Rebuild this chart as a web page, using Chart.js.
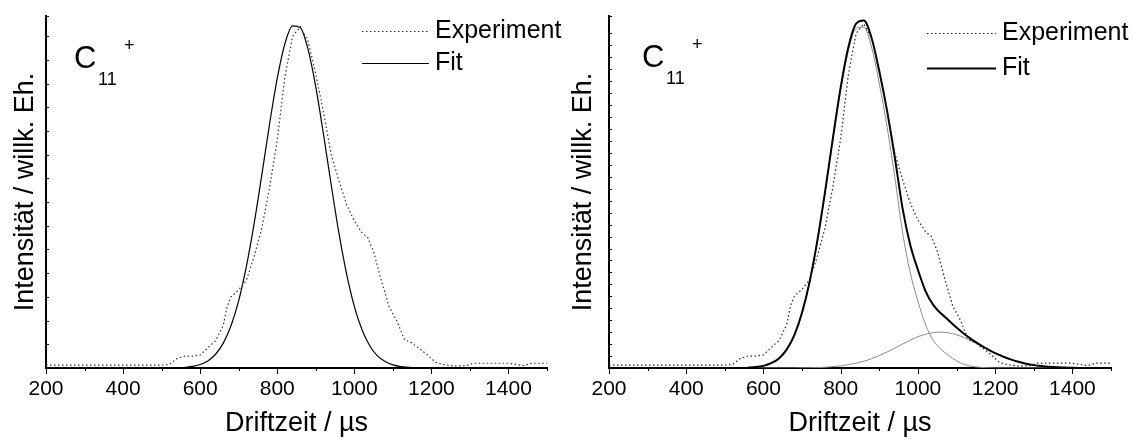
<!DOCTYPE html>
<html>
<head>
<meta charset="utf-8">
<script src="https://cdn.jsdelivr.net/npm/chart.js@4.4.0/dist/chart.umd.min.js"></script>
<style>
  html, body { margin: 0; padding: 0; background: #fff; }
  #wrap { position: relative; width: 1133px; height: 443px; }
  canvas { position: absolute; top: 0; }
  #chartLeft { left: 0; }
  #chartRight { left: 566px; }
</style>
</head>
<body>
<div id="wrap">
  <canvas id="chartLeft" width="566" height="443"></canvas>
  <canvas id="chartRight" width="567" height="443"></canvas>
</div>
<script>
const FONT = "'Liberation Sans', Arial, Helvetica, sans-serif";

// x tick labels (every 100 us gets a tick, every 200 a label)
const driftTicks = [200, 400, 600, 800, 1000, 1200, 1400];

// measured spectrum (same in both panels)
const expTime = [200, 300, 400, 500, 520, 540, 560, 580, 600, 620, 640, 660, 670, 680, 700, 720, 740, 760, 780, 800,
  820, 840, 860, 880, 900, 920, 940, 960, 980, 1000, 1020, 1035, 1050, 1070, 1090, 1110, 1130, 1150, 1170, 1190,
  1210, 1230, 1260, 1290, 1310, 1400, 1440, 1460, 1500];
const expIntensity = [0.12, 0.12, 0.12, 0.12, 0.15, 0.40, 0.50, 0.50, 0.55, 0.85, 1.15, 1.8, 2.6, 3.0, 3.3, 3.7, 4.7, 5.9, 7.6, 9.6,
  12.3, 14.0, 14.4, 13.8, 12.4, 10.8, 9.0, 7.9, 6.9, 6.2, 5.7, 5.5, 4.9, 3.7, 2.6, 2.0, 1.2, 1.05, 0.8, 0.55,
  0.25, 0.15, 0.08, 0.1, 0.2, 0.2, 0.1, 0.2, 0.2];

// left panel: single gaussian fit
const fitTimeLeft = [560, 580, 600, 620, 640, 660, 680, 700, 720, 740, 760, 780, 800, 820, 840, 860,
  880, 900, 920, 940, 960, 980, 1000, 1020, 1040, 1060, 1080, 1100, 1120, 1140, 1160, 1180];
const fitLeft = [0.03, 0.07, 0.15, 0.30, 0.58, 1.05, 1.78, 2.84, 4.29, 6.09, 8.15, 10.28, 12.22, 13.68, 14.43, 14.35,
  13.44, 11.86, 9.86, 7.73, 5.70, 3.97, 2.60, 1.61, 0.94, 0.51, 0.27, 0.13, 0.06, 0.03, 0.01, 0];

// right panel: two components + sum
const fitTimeRight = [560, 580, 600, 620, 640, 660, 680, 700, 720, 740, 760, 780, 800, 820, 840, 860, 880, 900, 920, 940,
  960, 980, 1000, 1020, 1040, 1060, 1080, 1100, 1120, 1140, 1160, 1180, 1200, 1220, 1240, 1260, 1280, 1300, 1320, 1340,
  1360, 1380, 1400, 1420];
const fitMain = [0.02, 0.04, 0.09, 0.20, 0.40, 0.77, 1.38, 2.31, 3.63, 5.35, 7.39, 9.58, 11.65, 13.29, 14.21, 14.26, 13.42, 11.9, 10.1, 8.0,
  5.7, 4.0, 2.8, 1.8, 1.15, 0.78, 0.52, 0.30, 0.15, 0.07, 0.03, 0.01, 0, 0, 0, 0, 0, 0, 0, 0,
  0, 0, 0, 0];
const fitSide = [0, 0, 0, 0, 0, 0, 0, 0.01, 0.01, 0.02, 0.03, 0.06, 0.09, 0.14, 0.20, 0.28, 0.39, 0.52, 0.67, 0.83,
  1.00, 1.16, 1.31, 1.41, 1.48, 1.50, 1.47, 1.39, 1.27, 1.12, 0.95, 0.78, 0.62, 0.48, 0.36, 0.26, 0.18, 0.12, 0.08, 0.05,
  0.03, 0.02, 0.01, 0];
const fitTotal = [0.02, 0.04, 0.09, 0.20, 0.40, 0.77, 1.38, 2.32, 3.64, 5.37, 7.42, 9.64, 11.74, 13.43, 14.41, 14.54, 13.81, 12.42, 10.77, 8.83,
  6.70, 5.16, 4.11, 3.21, 2.63, 2.28, 1.99, 1.69, 1.42, 1.19, 0.98, 0.79, 0.62, 0.48, 0.36, 0.26, 0.18, 0.12, 0.08, 0.05,
  0.03, 0.02, 0.01, 0];

const toPoints = (xs, ys) => xs.map((x, i) => ({ x: x, y: ys[i] }));

// ticks (x outward, y inward), species label and legend
const panelDecor = {
  id: 'panelDecor',
  afterDraw(chart, args, opts) {
    const { ctx, chartArea } = chart;
    const x = chart.scales.x, y = chart.scales.y;
    ctx.save();
    ctx.strokeStyle = '#000';
    ctx.lineWidth = 1;
    x.ticks.forEach(t => {
      const px = Math.round(x.getPixelForValue(t.value)) + 0.5;
      const len = t.value % 200 === 0 ? 6 : 3;
      ctx.beginPath();
      ctx.moveTo(px, chartArea.bottom);
      ctx.lineTo(px, chartArea.bottom + len);
      ctx.stroke();
    });
    y.ticks.forEach(t => {
      const py = Math.round(y.getPixelForValue(t.value)) + 0.5;
      ctx.beginPath();
      ctx.moveTo(chartArea.left, py);
      ctx.lineTo(chartArea.left + 3, py);
      ctx.stroke();
    });

    // C11+
    ctx.fillStyle = '#000';
    ctx.textBaseline = 'alphabetic';
    ctx.textAlign = 'left';
    const lx = chartArea.left + opts.labelDx;
    ctx.font = '31px ' + FONT;
    ctx.fillText('C', lx, opts.labelBase);
    ctx.font = '18px ' + FONT;
    ctx.fillText('11', lx + 24, opts.labelBase + 17);
    ctx.fillText('+', lx + 50, opts.labelBase - 17);

    // legend
    ctx.font = '25px ' + FONT;
    ctx.textBaseline = 'middle';
    opts.legend.forEach((item, i) => {
      const ds = chart.data.datasets[item.index];
      const ry = opts.rows[i];
      ctx.strokeStyle = ds.borderColor;
      ctx.lineWidth = ds.borderWidth;
      ctx.setLineDash(ds.borderDash || []);
      ctx.beginPath();
      ctx.moveTo(opts.sampleX[0], ry + 0.5);
      ctx.lineTo(opts.sampleX[1], ry + 0.5);
      ctx.stroke();
      ctx.setLineDash([]);
      ctx.fillText(ds.label, opts.textX, ry);
    });
    ctx.restore();
  }
};

function makeChart(id, datasets, cfg) {
  return new Chart(document.getElementById(id), {
    type: 'line',
    data: { datasets: datasets },
    plugins: [panelDecor],
    options: {
      responsive: false,
      animation: false,
      layout: { padding: { top: 16, right: cfg.padRight, bottom: 0, left: 0 } },
      elements: { point: { radius: 0 } },
      plugins: {
        legend: { display: false },
        tooltip: { enabled: false },
        panelDecor: cfg.decor
      },
      scales: {
        x: {
          type: 'linear',
          min: 200,
          max: 1500,
          grid: { display: false, drawTicks: false },
          border: { display: true, color: '#000', width: 2 },
          ticks: {
            stepSize: 100,
            autoSkip: false,
            maxRotation: 0,
            padding: 9,
            color: '#000',
            font: { family: FONT, size: 21 },
            callback: v => driftTicks.includes(v) ? String(v) : ''
          },
          title: {
            display: true,
            text: 'Driftzeit / µs',
            color: '#000',
            font: { family: FONT, size: 27 },
            padding: { top: 0, bottom: 3 }
          },
          afterFit: s => { s.height = 75; }
        },
        y: {
          min: 0,
          max: cfg.yMax,
          grid: { display: false, drawTicks: false },
          border: { display: true, color: '#000', width: 2 },
          ticks: { display: false, stepSize: cfg.yStep },
          title: {
            display: true,
            text: 'Intensität / willk. Eh.',
            color: '#000',
            font: { family: FONT, size: 27 },
            padding: { top: cfg.titlePad, bottom: 0 }
          },
          afterFit: s => { s.width = cfg.yWidth; }
        }
      }
    }
  });
}

makeChart('chartLeft', [
  {
    label: 'Experiment',
    data: toPoints(expTime, expIntensity),
    borderColor: '#333',
    borderWidth: 1.2,
    borderDash: [1.5, 2.5],
    tension: 0
  },
  {
    label: 'Fit',
    data: toPoints(fitTimeLeft, fitLeft),
    borderColor: '#000',
    borderWidth: 1.2,
    cubicInterpolationMode: 'monotone'
  }
], {
  padRight: 19, yWidth: 46, yMax: 14.85, yStep: 1, titlePad: 9,
  decor: {
    labelDx: 28, labelBase: 68,
    rows: [31, 63], sampleX: [362, 429], textX: 435,
    legend: [{ index: 0 }, { index: 1 }]
  }
});

makeChart('chartRight', [
  {
    label: 'Experiment',
    data: toPoints(expTime, expIntensity),
    borderColor: '#222',
    borderWidth: 1.2,
    borderDash: [1.5, 2.5],
    tension: 0
  },
  {
    label: 'Fit',
    data: toPoints(fitTimeRight, fitTotal),
    borderColor: '#000',
    borderWidth: 2,
    cubicInterpolationMode: 'monotone'
  },
  {
    label: 'Peak 1',
    data: toPoints(fitTimeRight, fitMain),
    borderColor: '#8a8a8a',
    borderWidth: 1,
    cubicInterpolationMode: 'monotone'
  },
  {
    label: 'Peak 2',
    data: toPoints(fitTimeRight, fitSide),
    borderColor: '#8a8a8a',
    borderWidth: 1,
    cubicInterpolationMode: 'monotone'
  }
], {
  padRight: 22, yWidth: 43, yMax: 14.73, yStep: 0.5, titlePad: 1,
  decor: {
    labelDx: 33, labelBase: 67,
    rows: [33, 68], sampleX: [361, 430], textX: 436,
    legend: [{ index: 0 }, { index: 1 }]
  }
});
</script>
</body>
</html>
